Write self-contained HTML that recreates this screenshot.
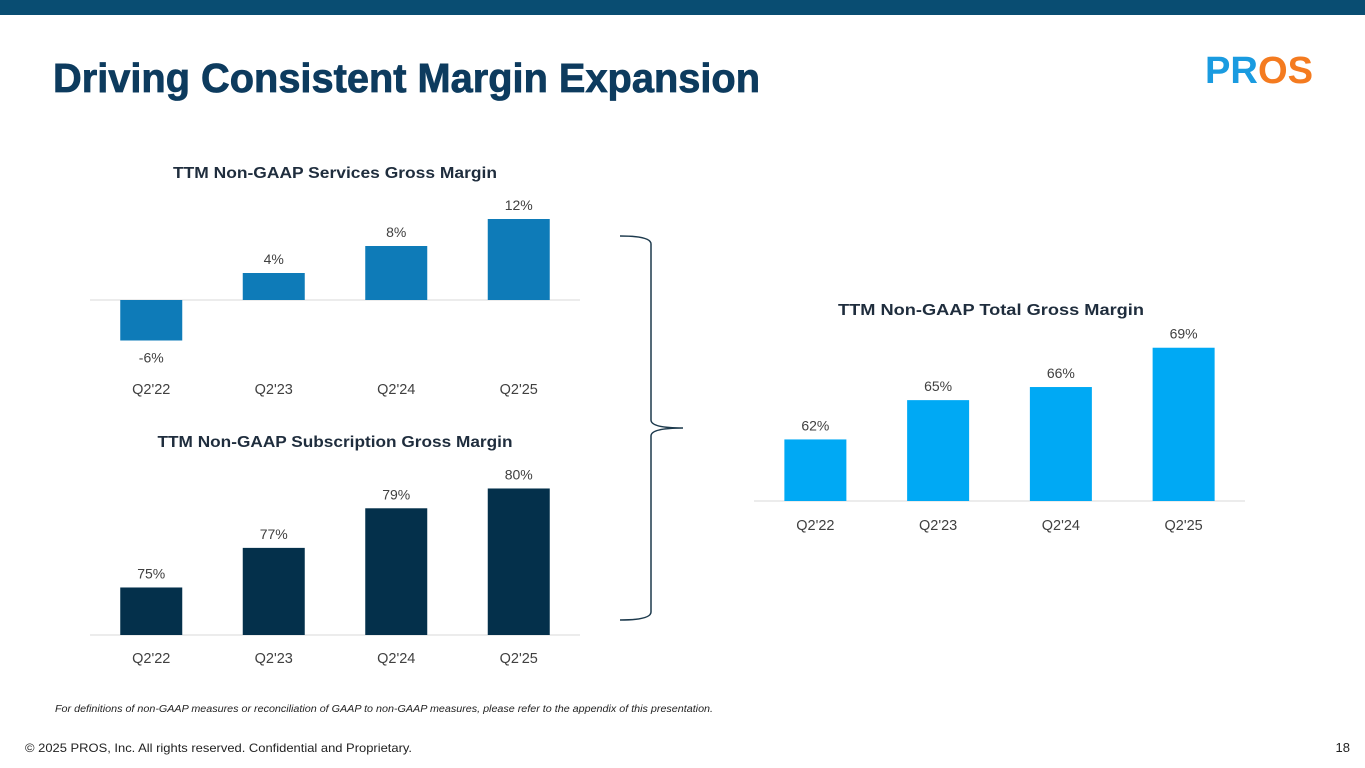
<!DOCTYPE html>
<html><head><meta charset="utf-8"><style>
html,body{margin:0;padding:0;background:#fff;}
svg{display:block;font-family:"Liberation Sans",sans-serif;}
</style></head><body>
<svg id="page" width="1365" height="768" viewBox="0 0 1365 768">
<rect x="0" y="0" width="1365" height="15" fill="#094d72"/>
<text x="53" y="92" font-size="41" font-weight="bold" fill="#0d3b5e" stroke="#0d3b5e" stroke-width="0.8" textLength="707" lengthAdjust="spacingAndGlyphs">Driving Consistent Margin Expansion</text>
<g>
<text x="1205" y="83" font-size="38" font-weight="bold" fill="#1a9be0" stroke-width="1" textLength="108" lengthAdjust="spacingAndGlyphs">PR<tspan fill="#f47b20">OS</tspan></text>
</g>
<path d="M620,236 Q651,236 651,244 L651,420 Q651,428 683,428 Q651,428 651,436 L651,612 Q651,620 620,620" fill="none" stroke="#1d3a4d" stroke-width="1.5"/>
<text x="55" y="712" font-size="10" font-style="italic" fill="#222" textLength="658" lengthAdjust="spacingAndGlyphs">For definitions of non-GAAP measures or reconciliation of GAAP to non-GAAP measures, please refer to the appendix of this presentation.</text>
<text x="25" y="752" font-size="12" fill="#222" textLength="387" lengthAdjust="spacingAndGlyphs">© 2025 PROS, Inc. All rights reserved. Confidential and Proprietary.</text>
<text x="1350" y="752" font-size="13" fill="#222" text-anchor="end">18</text>
<g id="charts"></g>
</svg>
<script>
const categories = ["Q2'22","Q2'23","Q2'24","Q2'25"];
const servicesValues = [-6, 4, 8, 12];
const subscriptionValues = [75, 77, 79, 80];
const totalValues = [62, 65, 66, 69];
const NS = "http://www.w3.org/2000/svg";
const root = document.getElementById('charts');
function mk(tag, attrs, parent){const e=document.createElementNS(NS,tag);for(const k in attrs)e.setAttribute(k,attrs[k]);parent.appendChild(e);return e;}
function chart(cfg){
  const g = mk('g',{},root);
  
  
  const t = mk('text',{x:cfg.titleX,y:cfg.titleY,'font-size':16,'font-weight':'bold',fill:'#1f2d3d','text-anchor':'middle',textLength:cfg.titleW,lengthAdjust:'spacingAndGlyphs'},g);
  t.textContent = cfg.title;
  
  
  const ax = mk('line',{x1:cfg.x0,x2:cfg.x1,y1:cfg.base,y2:cfg.base,stroke:'#d9d9d9','stroke-width':1},g);
  
  
  const step = (cfg.x1-cfg.x0)/categories.length;
  const yv = v => cfg.base - cfg.ppu*(v - cfg.floor);
  cfg.values.forEach((v,i)=>{
    const cx = cfg.x0 + step*(i+0.5);
    const y = yv(v), yb = cfg.floor===0 ? yv(0) : cfg.base;
    const top = Math.min(y,yb), h = Math.abs(y-yb);
    const r = mk('rect',{x:cx-31,y:top,width:62,height:h,fill:cfg.color},g);
    
    
    const ly = v>=0 ? top-9 : top+h+22;
    const l = mk('text',{x:cx,y:ly,'font-size':14,fill:'#404040','text-anchor':'middle'},g);
    l.textContent = v + '%';
    
    
    const c = mk('text',{x:cx,y:cfg.catY,'font-size':14.5,fill:'#404040','text-anchor':'middle'},g);
    c.textContent = categories[i];
    
    
  });
}
chart({name:'services-margin-chart',title:'TTM Non-GAAP Services Gross Margin',titleW:324,titleX:335,titleY:178,x0:90,x1:580,base:300,floor:0,ppu:6.75,values:servicesValues,color:'#0e7bb8',catY:394});
chart({name:'subscription-margin-chart',title:'TTM Non-GAAP Subscription Gross Margin',titleW:355,titleX:335,titleY:447,x0:90,x1:580,base:635,floor:72.6,ppu:19.8,values:subscriptionValues,color:'#04304b',catY:663});
chart({name:'total-margin-chart',title:'TTM Non-GAAP Total Gross Margin',titleW:306,titleX:991,titleY:315,x0:754,x1:1245,base:501,floor:57.3,ppu:13.1,values:totalValues,color:'#00a9f4',catY:530});
</script>
</body></html>
